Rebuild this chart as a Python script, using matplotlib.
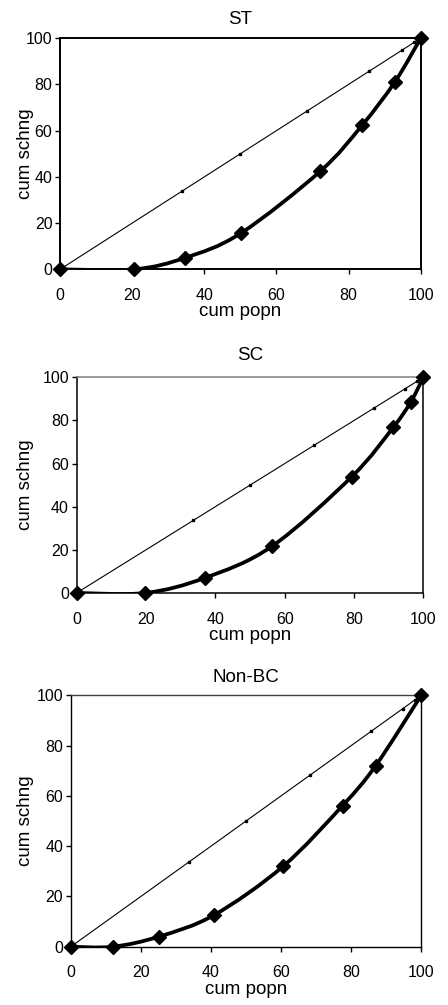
""" Concentration curves of schooling by social group """

import matplotlib
matplotlib.use('Agg')
import matplotlib.pyplot as plt
from matplotlib.path import Path
from matplotlib.patches import PathPatch

plt.rcParams['font.family'] = ['Liberation Sans', 'DejaVu Sans']

# equality line points (same for every panel)
equal_x = [0, 33.7, 50, 68.4, 85.8, 94.7, 98.2, 100]

st_popn = [0, 20.5, 34.7, 50.1, 72.2, 83.8, 92.9, 100]
st_schng = [0, 0, 5.0, 15.6, 42.5, 62.4, 81.2, 100]

sc_popn = [0, 19.8, 37.0, 56.3, 79.4, 91.3, 96.3, 100]
sc_schng = [0, 0, 7.0, 21.6, 54.0, 76.8, 88.4, 100]

nonbc_popn = [0, 12.0, 25.1, 40.9, 60.6, 77.6, 87.0, 100]
nonbc_schng = [0, 0, 4.0, 12.6, 32.0, 56.2, 72.0, 100]

titles = ['ST', 'SC', 'Non-BC']
curves = [(st_popn, st_schng), (sc_popn, sc_schng), (nonbc_popn, nonbc_schng)]
ticks = [0, 20, 40, 60, 80, 100]

FIG_W, FIG_H = 448, 1005

# axes boxes in figure fractions [left, bottom, width, height]
boxes = [
    [0.134, 0.732, 0.805, 0.230],
    [0.171, 0.410, 0.774, 0.2145],
    [0.158, 0.058, 0.782, 0.250],
]
title_pads = [10.5, 12.5, 10]
spine_widths = [1.4, 1.1, 1.0]
top_colors = ['black', '#808080', '#404040']


def smooth_path(xs, ys):
    # Excel-style smoothed line: cubic Bezier through the points
    pts = list(zip(xs, ys))
    verts = [pts[0]]
    codes = [Path.MOVETO]
    n = len(pts)
    for i in range(n - 1):
        p0 = pts[i - 1] if i > 0 else pts[i]
        p1 = pts[i]
        p2 = pts[i + 1]
        p3 = pts[i + 2] if i + 2 < n else pts[i + 1]
        c1 = (p1[0] + (p2[0] - p0[0]) / 6, p1[1] + (p2[1] - p0[1]) / 6)
        c2 = (p2[0] - (p3[0] - p1[0]) / 6, p2[1] - (p3[1] - p1[1]) / 6)
        verts += [c1, c2, p2]
        codes += [Path.CURVE4] * 3
    return Path(verts, codes)


def draw_panel(fig, box, title, popn, schng, spine_lw, top_color, tpad):
    ax = fig.add_axes(box)
    ax.plot(equal_x, equal_x, color='black', lw=0.8, marker='s',
            markersize=2, zorder=2)
    ax.add_patch(PathPatch(smooth_path(popn, schng), facecolor='none',
                           edgecolor='black', lw=2.7, zorder=3))
    ax.plot(popn, schng, linestyle='none', marker='D', markersize=7,
            color='black', clip_on=False, zorder=4)

    ax.set_xlim(0, 100)
    ax.set_ylim(0, 100)
    ax.set_xticks(ticks)
    ax.set_yticks(ticks)
    ax.tick_params(direction='out', length=3.5, width=1, labelsize=11.5)
    ax.tick_params(axis='x', pad=10)
    ax.tick_params(axis='y', pad=2)
    for side in ['left', 'bottom', 'right', 'top']:
        ax.spines[side].set_linewidth(spine_lw)
        ax.spines[side].set_color('black')
    ax.spines['top'].set_color(top_color)

    ax.set_title(title, fontsize=13.5, pad=tpad)
    ax.set_xlabel('cum popn', fontsize=13.5)
    ax.set_ylabel('cum schng', fontsize=13.5)

    # label positions measured in pixels from the axes frame
    w_px = box[2] * FIG_W
    h_px = box[3] * FIG_H
    left_px = box[0] * FIG_W
    ax.xaxis.set_label_coords(0.5, -34 / h_px)
    ax.yaxis.set_label_coords((34 - left_px) / w_px, 0.5)
    return ax


def main():
    fig = plt.figure(figsize=(FIG_W / 100, FIG_H / 100), dpi=100)
    for i, (popn, schng) in enumerate(curves):
        draw_panel(fig, boxes[i], titles[i], popn, schng,
                   spine_widths[i], top_colors[i], title_pads[i])
    fig.savefig('out.png', dpi=100)


if __name__ == '__main__':
    main()
